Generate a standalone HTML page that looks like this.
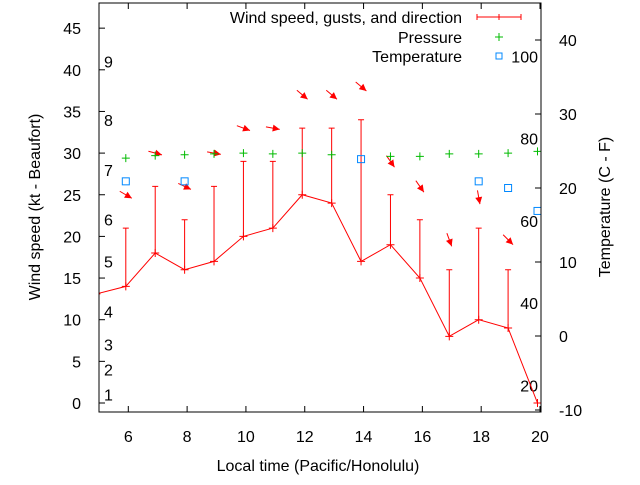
<!DOCTYPE html>
<html><head><meta charset="utf-8"><style>
body{margin:0;background:#fff}
svg text{font-family:"Liberation Sans",sans-serif;font-size:16px;fill:#000}
</style></head><body>
<svg id="c" width="640" height="480" xmlns="http://www.w3.org/2000/svg"></svg>
<script>
const hours=[5,6,7,8,9,10,11,12,13,14,15,16,17,18,19,20];
const speed=[13.1,14,18,16,17,20,21,25,24,17,19,15,8,10,9,0];
const gusts=[null,21,26,22,26,29,29,33,33,34,25,22,16,21,16,null];
const pressHours=[6,7,8,9,10,11,12,13,15,16,17,18,19,20];
const pressure=[29.4,29.7,29.8,29.9,30,29.9,30,29.8,29.6,29.6,29.9,29.9,30,30.2];
const tempHours=[6,8,14,18,19,20];
const tempC=[20.9,20.9,23.9,20.9,20,16.9];
const arrowHours=[6,7,8,9,10,11,12,13,14,15,16,17,18,19];
const arrowY=[25,30,26,30,33,33,37,37,38,29,26,19.6,24.7,19.6];
const arrowDir=[30,15,25,10,20,10,40,40,40,55,55,70,80,45];
const xTicks=[6,8,10,12,14,16,18,20];
const yTicks=[0,5,10,15,20,25,30,35,40,45];
const cTicks=[-10,0,10,20,30,40];
const fTicks=[20,40,60,80,100];
const bfLabels=[1,2,3,4,5,6,7,8,9];
const bfY=[1,4,7,11,17,22,28,34,41];

const L=99,R=541,T=3,B=412;
const X=h=>128.3+(h-6)*(540-128.3)/14;
const Y=v=>403-v*8.33;
const YC=c=>336-c*7.4;
const svg=document.getElementById('c');
const NS='http://www.w3.org/2000/svg';
function el(tag,attrs,parent){const e=document.createElementNS(NS,tag);for(const k in attrs)e.setAttribute(k,attrs[k]);(parent||svg).appendChild(e);return e;}
function txt(s,x,y,anchor,name){const t=el('text',{x:x,y:y,'text-anchor':anchor||'start'});t.textContent=s;


return t;}
const off=-0.085;
const defs=el('defs',{});const cp=el('clipPath',{id:'pc'},defs);el('rect',{x:L,y:T,width:R-L,height:B-T},cp);
xTicks.forEach(v=>{const x=X(v);
const t=el('path',{d:`M${x} ${B}v-6M${x} ${T}v6`,stroke:'#000'});


txt(v,x,442,'middle','x-tick-label');});
yTicks.forEach(v=>{const y=Y(v);
const t=el('path',{d:`M${L} ${y}h6`,stroke:'#000'});


txt(v,81,y+6,'end','y-tick-label');});
cTicks.forEach(v=>{const y=YC(v);
const t=el('path',{d:`M${R} ${y}h-6`,stroke:'#000'});


txt(v,559,y+6,'start','y2-tick-label');});
fTicks.forEach(v=>{const y=YC((v-32)*5/9);
txt(v,538,y+6,'end','fahrenheit-label');});
bfLabels.forEach((b,i)=>{txt(b,104,Y(bfY[i])+6,'start','beaufort-label');});
const g=el('g',{'clip-path':'url(#pc)'});
const line=el('polyline',{points:hours.map((h,i)=>X(h+off)+','+Y(speed[i])).join(' '),fill:'none',stroke:'#f00'},g);


hours.forEach((h,i)=>{const x=X(h+off),y=Y(speed[i]);
const p=el('path',{d:`M${x-4} ${y}h8M${x} ${y-4}v8`,stroke:'#f00'},g);


if(gusts[i]!=null){const gy=Y(gusts[i]);
const e=el('path',{d:`M${x} ${y}V${gy}M${x-3} ${gy}h6`,stroke:'#f00'},g);

}});
arrowHours.forEach((h,i)=>{const x=X(h+off),y=Y(arrowY[i]);const a=arrowDir[i]*Math.PI/180;
const len=14,dx=Math.cos(a),dy=Math.sin(a);const x0=x-dx*len/2,y0=y-dy*len/2,x1=x+dx*len/2,y1=y+dy*len/2;
const hx=x1-dx*7,hy=y1-dy*7;
const ar=el('g',{},g);


el('line',{x1:x0,y1:y0,x2:x1,y2:y1,stroke:'#f00'},ar);
el('polygon',{points:`${x1},${y1} ${hx-dy*3.5},${hy+dx*3.5} ${hx+dy*3.5},${hy-dx*3.5}`,fill:'#f00'},ar);});
pressHours.forEach((h,i)=>{const x=X(h+off),y=Y(pressure[i]);
const p=el('path',{d:`M${x-4} ${y}h8M${x} ${y-4}v8`,stroke:'#0b0'},g);

});
tempHours.forEach((h,i)=>{const x=X(h+off),y=YC(tempC[i]);
const r=el('rect',{x:x-3.5,y:y-3.5,width:7,height:7,fill:'none',stroke:'#08f'},g);

});
const f=el('rect',{x:L,y:T,width:R-L,height:B-T,fill:'none',stroke:'#000'});


txt('Wind speed, gusts, and direction',462,23,'end','legend-wind-label');
const lw=el('path',{d:'M477 17h44M477 14v6M521 14v6M499 14v6',stroke:'#f00'});


txt('Pressure',462,43,'end','legend-pressure-label');
const lp=el('path',{d:'M495 37h8M499 33v8',stroke:'#0b0'});


txt('Temperature',462,62,'end','legend-temperature-label');
const lt=el('rect',{x:496,y:53,width:6,height:6,fill:'none',stroke:'#08f'});


txt('Local time (Pacific/Honolulu)',318,471,'middle','x-axis-title');
const yt=txt('Wind speed (kt - Beaufort)',0,0,'middle','y-axis-title');yt.setAttribute('transform','translate(40,207) rotate(-90)');
const y2=txt('Temperature (C - F)',0,0,'middle','y2-axis-title');y2.setAttribute('transform','translate(610,207) rotate(-90)');
</script>
</body></html>
